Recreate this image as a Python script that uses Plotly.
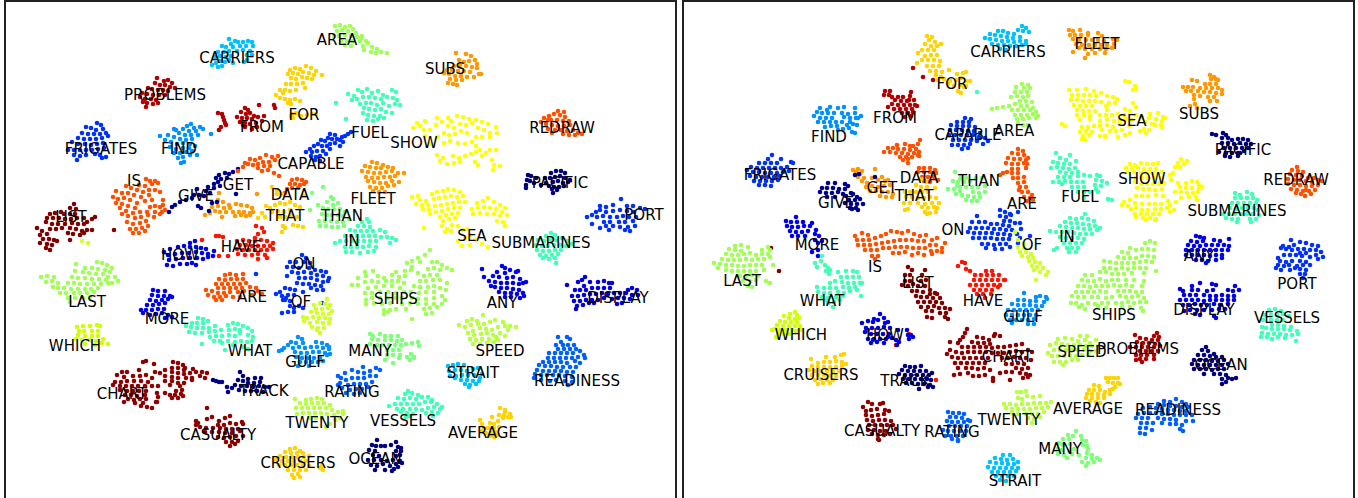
import plotly.graph_objects as go

# Word -> colour
WORDS = ["AREA","CARRIERS","SUBS","PROBLEMS","FROM","FOR","FUEL","SHOW","REDRAW","FRIGATES","FIND","CAPABLE","GET","IS","GIVE","DATA","FLEET","PACIFIC","THAT","THAN","LIST","PORT","SEA","IN","HAVE","SUBMARINES","HOW","ON","LAST","ARE","OF","SHIPS","ANY","DISPLAY","MORE","WHAT","GULF","MANY","SPEED","WHICH","STRAIT","READINESS","TRACK","RATING","CHART","TWENTY","VESSELS","AVERAGE","CASUALTY","CRUISERS","OCEAN"]
COLORS = ["#a0ff57","#00c0ff","#ff9800","#b20000","#b20000","#ffd300","#40ffb7","#ffff00","#ff5000","#0030ff","#0090ff","#0030ff","#ff9800","#ff5000","#000090","#ff5000","#ff9800","#000080","#ffd300","#7dff7a","#800000","#0030ff","#ffff00","#40ffb7","#ff1300","#40ffb7","#0000e8","#0030ff","#a0ff57","#ff5000","#d0ff29","#a0ff57","#0000f0","#0000e0","#0000f0","#40ffb7","#0090ff","#7dff7a","#b7ff40","#d0ff00","#00c0ff","#0060ff","#000080","#0060ff","#8f0000","#b7ff40","#40ffb7","#ffd300","#8f0000","#ffd300","#000080"]

# Left panel label centres
L_LABEL_X = [337,237,445,165,262,304,370,414,562,101,179,311,238,134,196,290,373,560,285,342,71,644,472,352,241,541,180,304,87,252,301,396,502,618,167,250,305,370,500,75,473,577,264,352,122,317,403,483,218,298,375]
L_LABEL_Y = [41,59,70,96,128,116,134,144,129,150,150,165,186,182,197,196,200,184,217,217,218,216,237,242,248,244,256,265,303,298,303,300,304,299,320,352,363,352,352,347,374,382,392,393,395,424,422,434,436,464,460]
# Right panel label centres
R_LABEL_X = [1014,1008,1199,1138,895,952,1080,1142,1296,780,829,968,882,875,836,919,1097,1243,914,979,918,1297,1132,1067,983,1237,885,953,742,1022,1032,1114,1199,1204,817,822,1023,1060,1082,801,1015,1178,905,952,1007,1009,1287,1088,882,821,1221]
R_LABEL_Y = [132,53,115,350,119,85,198,180,181,176,138,136,189,268,204,179,45,151,197,182,284,285,122,238,302,212,336,231,282,205,246,316,257,311,246,302,318,450,353,336,482,411,382,433,358,421,319,410,432,376,366]

# ---------- left panel ----------
L_AREA = [(335,26),(340,25),(345,27),(350,26),(337,31),(342,30),(348,31),(353,29),(356,33),(334,36),(339,36),(345,35),(351,36),(357,37),(362,36),(341,41),(347,41),(353,41),(360,41),(366,41),(345,45),(351,46),(363,46),(368,43),(372,47),(377,49),(381,52),(376,53),(387,53),(364,50),(371,52),(361,38)]
L_CARRIERS = [(229,39),(235,41),(231,44),(238,42),(243,42),(248,41),(252,42),(222,46),(226,47),(233,47),(240,46),(246,46),(253,46),(218,52),(224,52),(229,51),(237,51),(243,50),(250,51),(215,57),(220,56),(226,57),(231,56),(247,55),(252,55),(212,65),(216,63),(220,61),(225,62),(229,60),(233,63),(218,67),(222,66),(244,62),(247,60)]
L_PROBLEMS = [(157,78),(164,81),(168,80),(172,83),(155,83),(160,85),(165,85),(170,87),(175,88),(148,88),(152,89),(158,90),(163,90),(168,91),(142,93),(147,94),(153,95),(159,95),(165,95),(140,97),(145,99),(151,99),(156,100),(147,103),(153,104),(158,103),(146,107),(143,102)]
L_FROM = [(218,113),(222,114),(223,117),(224,120),(225,123),(226,125),(221,127),(219,130),(245,108),(248,110),(259,105),(241,112),(246,114),(250,113),(254,116),(237,117),(242,118),(247,118),(252,119),(258,117),(264,116),(240,122),(245,123),(250,124),(256,123),(262,121),(245,127),(252,129),(257,127),(243,125),(274,105),(275,108)]
L_FOR = [(290,70),(295,68),(300,69),(306,66),(311,68),(316,71),(322,75),(288,74),(293,73),(298,74),(303,72),(309,73),(314,75),(291,78),(296,79),(302,77),(307,78),(312,79),(286,84),(291,84),(297,84),(303,83),(280,90),(283,93),(276,95),(285,90),(290,91),(296,90),(305,88),(280,98),(285,99),(290,100),(295,99),(300,101),(291,104),(288,103),(292,114),(296,113),(291,116),(301,116),(307,115),(312,114),(316,114),(293,118)]
L_FUEL = [(348,94),(354,96),(358,90),(362,92),(367,89),(372,93),(378,91),(383,95),(392,90),(396,92),(397,100),(400,105),(352,100),(357,99),(363,97),(369,97),(375,98),(381,99),(387,97),(393,98),(360,104),(366,103),(371,103),(377,105),(383,103),(389,106),(395,104),(364,108),(369,109),(375,110),(381,109),(386,112),(392,113),(363,113),(368,115),(374,116),(380,116),(367,120),(373,121),(378,119),(384,118),(346,119),(336,103)]
L_CAPABLE = [(351,132),(348,134),(345,136),(342,137),(340,140),(343,142),(340,146),(335,135),(330,134),(337,139),(332,139),(328,138),(335,143),(330,144),(325,141),(321,140),(327,146),(322,146),(318,144),(314,146),(310,149),(306,152),(312,152),(317,151),(323,151),(330,149),(311,156),(316,157),(320,156),(326,154),(315,160),(320,161)]
L_SUBS = [(456,53),(466,54),(471,56),(459,60),(464,62),(469,61),(475,60),(477,64),(454,66),(460,65),(466,66),(472,67),(477,68),(447,70),(452,70),(458,71),(464,71),(470,72),(481,74),(444,73),(449,74),(455,76),(461,76),(467,77),(474,77),(479,74),(450,79),(456,80),(462,80),(448,83),(453,84),(457,85)]
L_SHOW = [(417,123),(420,126),(425,121),(413,128),(424,130),(430,130),(436,125),(442,122),(448,118),(451,121),(457,116),(463,117),(469,119),(476,120),(482,122),(488,124),(496,127),(437,118),(448,126),(454,128),(460,124),(466,125),(472,123),(478,128),(484,130),(490,133),(497,133),(444,133),(449,135),(455,134),(461,131),(467,133),(476,137),(482,137),(490,137),(438,137),(425,136),(430,144),(444,143),(450,141),(458,143),(465,144),(472,142),(476,146),(480,150),(496,150),(490,150),(486,153),(482,156),(476,152),(471,154),(465,156),(459,158),(453,156),(443,158),(437,155),(440,161),(447,164),(454,163),(460,162),(475,162),(478,165),(492,160),(494,165),(500,166),(493,170)]
L_REDRAW = [(558,111),(554,114),(560,115),(565,117),(549,116),(544,118),(551,120),(557,120),(563,121),(569,121),(546,124),(552,125),(558,126),(564,126),(570,125),(541,122),(548,129),(555,130),(561,130),(567,131),(573,130),(578,133),(582,134),(563,134),(569,135),(575,135),(552,133),(548,120),(564,112)]
L_FRIGATES = [(97,123),(101,125),(86,127),(91,128),(96,130),(103,129),(82,133),(88,134),(94,134),(100,134),(106,133),(78,138),(84,139),(90,139),(96,139),(102,138),(108,136),(72,142),(78,144),(85,144),(91,145),(97,144),(103,143),(68,150),(74,150),(80,150),(86,150),(92,150),(98,149),(104,148),(74,155),(80,156),(86,155),(95,154),(100,155),(106,157),(77,160),(102,158)]
L_FIND = [(191,124),(187,126),(194,128),(200,127),(183,129),(189,131),(196,131),(203,129),(174,129),(179,133),(185,135),(191,135),(198,135),(168,135),(174,137),(180,139),(186,140),(192,139),(211,134),(160,136),(165,140),(171,142),(177,144),(183,143),(190,144),(170,147),(176,149),(183,148),(189,148),(195,146),(174,153),(180,153),(186,152),(192,151),(178,158),(183,157),(190,155),(197,155),(181,163),(184,162),(176,130)]
L_GIVE = [(238,169),(233,172),(229,174),(225,173),(219,175),(216,178),(221,179),(227,178),(218,182),(214,184),(208,187),(214,188),(220,186),(206,191),(210,193),(197,189),(194,195),(199,195),(204,196),(192,198),(186,200),(180,202),(175,205),(172,207),(198,206),(201,208),(212,203),(217,202),(209,211),(169,212),(236,194)]
L_GET = [(219,193),(218,200),(223,202),(229,205),(212,207),(218,206),(224,208),(230,208),(236,204),(241,205),(247,206),(252,208),(210,213),(215,211),(220,212),(226,212),(233,212),(239,212),(244,212),(250,213),(222,217),(235,216),(241,215),(246,216),(205,215),(257,194),(250,215),(253,212)]
L_DATA = [(245,163),(250,159),(255,160),(260,158),(266,155),(272,157),(278,156),(243,167),(248,164),(253,165),(258,164),(263,162),(269,162),(275,160),(258,168),(264,166),(270,166),(262,171),(268,170),(274,173),(279,176),(238,171),(292,180),(297,179),(302,180),(306,182),(290,184),(295,184),(300,185),(304,184),(287,189),(292,188),(298,188),(285,193)]
L_THAT = [(272,187),(277,190),(282,194),(266,206),(270,208),(275,205),(280,203),(285,204),(290,202),(295,205),(300,207),(262,213),(258,218),(265,217),(272,212),(278,211),(284,212),(290,210),(280,217),(285,217),(292,216),(297,217),(283,226),(285,228),(282,232),(293,225),(298,226),(303,227),(277,194),(304,196)]
L_THAN = [(323,187),(331,197),(333,199),(327,202),(333,205),(338,203),(318,205),(323,208),(328,209),(334,209),(340,209),(345,212),(322,214),(327,215),(332,215),(338,215),(343,216),(319,221),(325,221),(331,221),(337,222),(343,222),(349,219),(320,226),(326,226),(332,227),(338,227),(344,226),(310,210),(312,193)]
L_FLEET = [(372,162),(377,163),(383,165),(365,166),(370,167),(376,168),(381,168),(388,167),(393,168),(362,171),(368,172),(374,173),(380,173),(386,172),(392,171),(398,173),(404,173),(366,177),(372,178),(378,178),(384,177),(390,177),(395,176),(368,181),(374,182),(380,183),(386,183),(392,181),(399,182),(370,187),(376,188),(382,188),(388,186),(394,185),(373,191),(379,192),(385,192)]
L_PACIFIC = [(528,175),(531,176),(536,178),(530,181),(526,185),(534,183),(527,180),(551,173),(556,171),(561,171),(565,173),(550,178),(555,177),(560,176),(565,178),(570,180),(553,182),(558,181),(563,183),(568,182),(549,186),(554,187),(559,187),(564,186),(552,189),(557,190),(553,193),(526,188),(541,185),(546,183),(545,178)]
L_PORT = [(621,199),(613,205),(606,207),(600,206),(627,206),(633,206),(640,208),(645,209),(600,210),(596,212),(606,212),(613,211),(620,210),(627,211),(634,212),(592,215),(587,217),(597,217),(603,216),(610,217),(617,217),(623,216),(629,217),(636,217),(604,222),(610,222),(619,222),(625,222),(633,221),(606,226),(613,226),(620,227),(628,227),(635,226),(600,228),(609,230),(630,231),(625,230),(592,224)]
L_SEA = [(418,196),(412,197),(420,200),(426,201),(432,194),(437,192),(443,191),(448,189),(454,190),(460,192),(463,196),(416,204),(422,205),(428,205),(434,199),(439,198),(445,197),(451,196),(457,197),(423,209),(429,210),(435,206),(441,205),(447,204),(453,203),(459,202),(465,202),(430,214),(436,212),(442,211),(448,209),(454,208),(460,208),(440,217),(446,215),(452,214),(458,213),(424,228),(443,221),(449,219),(455,218),(442,226),(447,229),(452,225),(458,226),(445,232),(451,231),(477,203),(483,201),(488,198),(494,202),(500,205),(505,208),(472,209),(478,208),(484,207),(490,208),(496,209),(502,212),(473,214),(480,213),(487,214),(494,214),(500,216),(507,215),(497,221),(503,222),(505,226),(463,230),(468,229),(470,235),(476,240),(482,244),(488,247),(470,245),(465,238),(458,241),(462,246)]
L_SUBMARINES = [(551,233),(546,236),(555,235),(538,240),(544,241),(550,240),(556,240),(562,238),(567,241),(572,244),(536,245),(542,246),(548,246),(554,245),(560,245),(566,246),(537,250),(543,251),(549,251),(555,250),(561,250),(540,255),(546,256),(552,255),(558,254),(543,258),(549,259),(555,258),(556,263)]
L_IN = [(367,219),(362,222),(369,222),(358,226),(364,226),(370,227),(350,230),(355,231),(361,231),(367,231),(373,231),(380,230),(385,232),(345,236),(351,236),(357,236),(363,236),(369,236),(375,236),(381,237),(387,237),(392,238),(396,240),(335,243),(340,241),(346,241),(352,241),(358,241),(364,241),(370,241),(376,241),(390,243),(345,247),(351,247),(357,247),(363,247),(369,246),(376,247),(346,252),(352,252),(360,253),(368,252),(374,251)]
L_HAVE = [(256,226),(262,228),(264,232),(258,234),(255,238),(216,236),(219,236),(223,237),(202,240),(237,241),(243,240),(249,241),(255,241),(261,240),(267,241),(273,243),(240,245),(246,245),(252,246),(258,246),(264,246),(270,246),(237,249),(243,250),(249,250),(255,250),(261,250),(267,250),(273,249),(238,254),(245,255),(252,255),(258,254),(265,255),(219,256),(228,256),(258,259),(267,258)]
L_HOW = [(190,243),(195,241),(184,246),(178,247),(170,249),(164,252),(190,247),(196,247),(201,248),(206,249),(214,251),(168,255),(175,254),(182,253),(189,253),(196,252),(202,253),(208,254),(213,256),(169,260),(176,259),(183,258),(190,258),(197,258),(203,259),(208,257),(167,265),(173,266),(180,264),(187,264),(192,263),(196,265)]
L_ON = [(302,255),(306,258),(290,262),(296,262),(304,262),(310,263),(287,267),(293,267),(299,268),(309,268),(315,270),(321,271),(326,272),(292,272),(298,273),(304,272),(311,273),(317,275),(323,276),(329,278),(287,276),(299,278),(305,278),(311,278),(317,280),(323,282),(328,281),(297,283),(303,284),(309,284),(315,285),(321,286),(311,288),(317,290),(323,290),(285,288),(290,289),(295,290),(280,292),(276,294),(282,296),(288,295),(294,295),(283,300),(286,298),(290,301),(285,300),(290,306),(294,308),(299,306),(303,308),(282,313),(288,312),(294,312),(322,303),(303,292),(256,274)]
L_ARE = [(225,275),(230,274),(236,275),(243,274),(219,279),(225,280),(231,279),(237,279),(243,279),(246,283),(216,284),(222,284),(228,284),(234,284),(240,284),(218,288),(224,288),(230,288),(236,288),(242,288),(206,290),(212,291),(218,293),(224,293),(230,292),(238,292),(244,291),(250,287),(256,288),(208,295),(214,297),(220,297),(226,296),(233,297),(240,297),(258,291),(262,294),(216,300),(222,300),(252,295)]
L_OF = [(327,299),(320,303),(314,305),(325,304),(330,305),(316,309),(322,309),(328,308),(332,311),(311,312),(317,313),(323,314),(329,314),(303,317),(307,318),(313,317),(319,318),(325,318),(330,319),(304,321),(310,323),(317,322),(323,323),(329,323),(312,327),(318,328),(324,328),(320,333),(317,330),(82,241),(88,243)]
L_LAST = [(97,262),(102,263),(107,265),(112,268),(76,264),(85,268),(92,268),(98,269),(105,270),(110,272),(75,271),(83,272),(89,273),(96,274),(103,274),(108,277),(115,277),(41,277),(47,276),(54,277),(72,277),(78,278),(85,278),(92,279),(99,279),(106,280),(112,283),(118,281),(46,282),(52,281),(58,283),(68,283),(74,283),(80,284),(87,284),(94,284),(101,284),(108,283),(53,287),(58,288),(64,288),(71,289),(78,289),(85,289),(91,289),(98,288),(60,293),(66,293),(74,293),(80,293),(87,293),(94,292),(68,298),(75,298),(83,298),(90,297),(70,302)]
L_SHIPS = [(430,250),(425,255),(418,258),(412,261),(407,263),(420,262),(412,267),(432,262),(437,262),(442,265),(447,268),(452,270),(365,272),(373,271),(396,272),(405,271),(411,270),(428,269),(434,268),(440,270),(358,278),(366,276),(378,276),(384,278),(392,275),(399,277),(405,276),(418,273),(424,276),(430,275),(437,275),(352,285),(358,285),(365,282),(372,281),(378,282),(386,281),(392,281),(398,281),(404,283),(420,281),(426,281),(433,280),(440,280),(447,283),(368,288),(376,287),(384,286),(392,286),(400,288),(414,286),(420,287),(428,287),(434,286),(440,288),(446,290),(365,293),(372,293),(380,292),(388,292),(396,293),(404,292),(411,292),(419,293),(426,292),(434,292),(366,300),(372,298),(380,298),(388,298),(396,298),(402,298),(412,298),(418,299),(426,299),(434,298),(442,296),(445,300),(366,304),(374,303),(382,304),(390,303),(402,304),(410,303),(418,304),(426,304),(434,304),(442,304),(384,310),(390,310),(396,309),(406,309),(424,309),(430,308),(437,307),(384,314),(388,312),(426,314),(432,313),(412,319)]
L_ANY = [(482,269),(502,266),(505,268),(510,270),(516,272),(518,271),(497,272),(505,273),(493,276),(499,277),(507,278),(513,277),(520,279),(526,282),(484,277),(489,281),(495,282),(501,283),(507,283),(513,283),(519,284),(523,283),(495,287),(501,288),(507,288),(513,289),(519,290),(499,292),(505,293),(511,293),(517,294),(523,293),(505,297),(511,297),(520,298),(524,296),(491,286)]
L_DISPLAY = [(585,277),(582,280),(578,282),(567,285),(584,286),(590,282),(598,282),(604,281),(609,283),(612,283),(575,290),(580,290),(586,290),(592,288),(598,288),(604,288),(610,288),(632,288),(637,290),(628,290),(572,296),(578,296),(584,295),(590,294),(596,294),(602,293),(608,294),(614,293),(620,293),(626,293),(632,295),(638,295),(574,301),(580,301),(586,300),(592,300),(598,300),(604,298),(612,299),(618,298),(624,298),(630,299),(577,306),(583,305),(589,303),(594,303),(617,304),(622,303),(576,309)]
L_MORE = [(153,290),(158,291),(165,291),(170,296),(172,297),(152,295),(158,296),(164,296),(150,300),(156,301),(162,300),(168,299),(147,305),(153,305),(159,304),(165,303),(141,310),(146,310),(152,310),(158,309),(164,309),(143,313),(150,315),(156,314),(162,313),(168,315),(165,318),(172,317)]
L_WHAT = [(198,318),(203,319),(192,323),(197,323),(203,323),(208,321),(186,326),(191,327),(197,328),(203,328),(209,328),(215,326),(189,332),(195,333),(202,333),(209,332),(215,331),(221,330),(228,325),(233,323),(238,324),(243,326),(248,328),(252,331),(229,330),(235,329),(240,330),(229,335),(235,336),(240,333),(248,335),(253,337),(210,337),(216,336),(222,336),(214,341),(220,341),(228,341),(235,342),(241,341),(247,342),(252,341),(202,344),(222,343),(233,345),(243,347),(248,349),(225,350)]
L_WHICH = [(77,327),(83,326),(90,326),(97,325),(100,326),(79,331),(84,331),(92,331),(98,331),(78,335),(85,336),(92,336),(98,336),(103,339),(76,339),(82,340),(90,340),(96,341),(102,343),(108,344),(85,344),(95,345)]
L_GULF = [(298,337),(302,339),(291,342),(296,343),(303,343),(316,342),(322,343),(327,345),(329,347),(288,345),(293,348),(299,347),(305,348),(311,347),(317,347),(323,348),(329,349),(284,348),(279,351),(282,350),(295,352),(301,353),(307,353),(313,352),(319,352),(325,353),(330,354),(296,357),(302,358),(308,358),(314,358),(320,358),(327,355),(300,362),(306,362),(312,362),(318,362),(323,361),(298,366),(309,366)]
L_MANY = [(370,334),(373,336),(380,334),(385,336),(391,336),(398,336),(372,339),(378,340),(385,340),(391,340),(397,341),(402,340),(377,345),(383,345),(389,345),(395,345),(401,345),(370,344),(387,350),(393,350),(399,350),(406,344),(412,343),(418,342),(419,346),(411,354),(414,357),(407,357),(400,355),(387,355),(393,355),(399,358),(385,360),(393,363),(410,360),(414,358)]
L_SPEED = [(483,315),(472,319),(467,321),(477,321),(459,325),(465,327),(471,325),(478,324),(484,324),(490,322),(495,320),(473,331),(480,328),(486,329),(492,330),(498,327),(503,322),(510,326),(516,327),(468,333),(474,335),(481,334),(487,333),(493,335),(500,333),(505,326),(508,330),(470,339),(476,340),(482,339),(489,339),(496,337),(505,336),(473,344),(480,344),(487,343),(494,342),(498,340)]
L_READINESS = [(558,337),(567,337),(570,339),(561,342),(556,345),(563,345),(568,345),(574,345),(558,349),(564,349),(570,349),(576,349),(549,353),(555,353),(561,353),(567,353),(573,353),(580,351),(584,355),(548,358),(554,358),(560,358),(566,358),(572,358),(578,357),(585,358),(543,362),(549,362),(555,362),(561,362),(567,363),(575,361),(580,363),(539,365),(545,366),(551,366),(557,367),(563,367),(570,367),(576,367),(537,370),(543,371),(549,371),(555,371),(561,371),(567,372),(573,372),(535,374),(541,375),(547,375),(553,375),(559,375),(565,376),(572,377),(534,378),(541,380),(550,381),(556,380),(565,381),(572,382),(568,385)]
L_STRAIT = [(448,366),(453,365),(458,364),(464,365),(449,371),(455,370),(461,370),(467,371),(473,369),(478,368),(482,374),(450,376),(456,376),(462,375),(468,375),(474,375),(480,378),(455,378),(461,380),(467,380),(473,381),(479,381),(465,384),(470,385),(476,384),(469,387)]
L_TRACK = [(213,380),(216,381),(219,382),(222,382),(240,372),(243,376),(248,379),(255,378),(261,378),(238,380),(243,381),(248,383),(254,383),(260,382),(235,385),(241,386),(247,386),(253,387),(259,386),(265,387),(269,387),(227,387),(232,388),(228,392),(239,390),(245,391),(251,391),(257,391),(263,392)]
L_RATING = [(341,378),(345,373),(352,370),(358,372),(364,373),(370,371),(376,368),(380,370),(340,383),(346,380),(352,378),(358,378),(364,378),(370,376),(376,376),(342,388),(348,385),(354,384),(360,384),(366,384),(372,382),(338,385),(350,390),(356,389),(362,389),(368,387),(346,393),(354,394),(360,393),(338,376),(363,367)]
L_CHART = [(143,362),(146,361),(154,364),(173,362),(178,363),(183,365),(185,368),(172,368),(178,368),(184,370),(193,369),(122,372),(127,372),(139,370),(155,372),(160,373),(165,370),(172,372),(178,373),(184,374),(190,373),(196,372),(202,372),(207,373),(117,375),(124,377),(133,376),(140,376),(146,375),(152,378),(165,376),(172,377),(178,378),(186,378),(192,378),(200,376),(205,378),(115,382),(121,382),(127,381),(134,381),(141,381),(148,382),(165,381),(172,381),(178,383),(184,383),(192,380),(113,385),(120,386),(126,386),(132,386),(138,386),(145,386),(152,386),(158,386),(170,385),(180,386),(120,390),(127,391),(133,391),(139,391),(146,391),(176,391),(182,390),(125,395),(131,395),(137,396),(145,395),(157,393),(175,395),(181,394),(128,399),(134,400),(140,399),(146,399),(158,397),(165,393),(172,398),(178,398),(183,396),(135,403),(143,403),(156,402),(170,395),(124,402),(141,406),(147,407),(152,408),(157,402)]
L_CASUALTY = [(207,408),(212,417),(207,419),(196,421),(198,423),(230,416),(225,418),(219,421),(218,425),(224,425),(230,423),(236,424),(242,422),(243,424),(196,425),(200,427),(206,428),(213,428),(220,428),(226,429),(232,429),(238,429),(205,432),(212,432),(219,432),(225,433),(232,433),(240,431),(218,437),(224,438),(230,437),(236,436),(243,436),(226,442),(232,442),(238,441),(230,446),(235,444)]
L_TWENTY = [(295,399),(306,400),(311,399),(317,398),(322,399),(300,403),(306,404),(312,403),(318,403),(324,403),(330,405),(296,408),(302,408),(308,408),(314,408),(320,408),(326,408),(332,410),(338,412),(343,414),(297,414),(303,413),(309,413),(315,413),(321,413),(327,414),(334,415),(310,418),(316,418),(322,418),(335,420),(340,418),(330,424),(326,427),(343,411)]
L_VESSELS = [(408,391),(405,394),(412,393),(418,395),(398,398),(404,399),(410,398),(416,399),(422,397),(428,397),(432,400),(389,406),(395,404),(401,404),(407,404),(413,404),(419,404),(425,402),(431,402),(437,404),(442,407),(397,409),(403,409),(410,409),(416,409),(422,410),(428,408),(434,407),(440,409),(401,412),(407,413),(413,414),(426,413),(432,412),(438,413),(406,417),(410,416),(433,416)]
L_AVERAGE = [(500,408),(505,410),(510,414),(499,415),(504,415),(508,417),(511,417),(492,417),(480,420),(482,424),(490,423),(494,424),(498,421),(484,428),(488,428),(494,428),(499,427),(482,431),(486,433),(492,433),(496,432),(490,436),(494,437),(498,435),(503,418),(505,412)]
L_OCEAN = [(377,440),(372,445),(376,446),(385,446),(391,445),(396,442),(398,447),(401,448),(369,450),(375,451),(381,446),(396,451),(401,451),(373,455),(379,456),(396,456),(400,455),(368,460),(374,460),(381,460),(387,461),(393,460),(400,461),(402,463),(371,465),(377,466),(383,464),(390,466),(396,464),(375,470),(385,470),(392,471),(394,469),(398,467)]
L_CRUISERS = [(290,449),(295,448),(300,451),(285,452),(291,453),(297,453),(303,453),(280,456),(286,457),(292,457),(298,457),(304,457),(309,456),(276,460),(282,461),(288,461),(294,461),(300,461),(306,461),(279,465),(285,465),(291,465),(297,465),(303,465),(309,466),(288,470),(294,470),(300,470),(306,470),(320,468),(323,470),(322,466),(292,475),(298,474),(294,478),(300,477)]
L_IS = [(146,179),(150,181),(155,181),(139,185),(145,186),(152,184),(158,183),(126,186),(131,188),(137,190),(143,192),(149,190),(155,190),(160,192),(116,191),(122,193),(128,193),(134,195),(141,197),(149,195),(113,197),(118,199),(124,198),(130,200),(137,203),(145,201),(152,200),(163,200),(116,203),(122,204),(128,206),(135,208),(150,207),(155,206),(160,207),(163,205),(120,208),(126,211),(133,213),(140,212),(147,212),(155,212),(162,212),(165,210),(122,214),(128,216),(135,218),(141,217),(148,215),(154,217),(160,214),(127,222),(133,224),(140,223),(146,221),(130,229),(136,229),(142,228),(148,226),(133,233),(139,233),(145,231)]
L_LIST = [(74,204),(70,208),(76,209),(61,212),(55,213),(50,214),(64,214),(70,214),(75,214),(47,218),(53,218),(59,218),(65,219),(71,219),(77,218),(84,218),(95,217),(92,219),(87,222),(46,222),(52,224),(58,224),(65,224),(72,223),(78,224),(84,224),(37,228),(42,231),(50,229),(56,229),(62,228),(70,228),(76,229),(82,231),(87,230),(92,230),(40,235),(47,234),(68,233),(73,234),(80,235),(84,233),(43,239),(49,239),(54,240),(70,240),(40,243),(47,244),(52,245),(57,241),(46,248),(50,250),(114,230)]

# ---------- right panel ----------
R_CARRIERS = [(1022,26),(1026,28),(1018,30),(1023,31),(1029,32),(998,31),(1003,31),(1008,33),(1014,34),(990,34),(995,35),(1001,36),(1007,37),(1013,38),(1020,37),(985,38),(990,39),(996,40),(1002,41),(1008,41),(1014,42),(1020,41),(1026,41),(992,44),(998,45),(1004,45),(1010,46),(1016,46),(1022,45),(1026,44),(1000,49),(1006,50)]
R_FLEET = [(1069,30),(1073,31),(1080,30),(1088,33),(1070,35),(1075,35),(1081,35),(1088,35),(1098,33),(1102,36),(1073,39),(1079,40),(1086,40),(1092,40),(1098,40),(1104,41),(1113,39),(1117,40),(1076,44),(1082,45),(1089,45),(1095,45),(1101,45),(1107,45),(1114,44),(1079,48),(1085,49),(1092,49),(1100,49),(1106,49),(1112,48),(1073,52),(1088,54),(1095,53),(1105,53),(1085,58)]
R_FOR = [(927,36),(932,37),(929,40),(935,42),(925,44),(931,46),(937,46),(941,44),(922,50),(928,50),(934,50),(918,53),(925,56),(931,55),(937,55),(922,60),(928,60),(934,60),(940,61),(917,63),(927,66),(933,66),(939,66),(930,71),(936,71),(942,72),(936,75),(941,77),(949,70),(938,80),(944,79),(950,81),(956,80),(961,78),(966,81),(957,74),(963,73),(966,72),(970,81),(954,86),(960,85),(966,86),(948,84),(958,91),(961,93),(964,87)]
R_FROM = [(885,91),(890,91),(889,95),(884,95),(892,97),(911,92),(910,96),(898,97),(903,97),(909,100),(895,100),(901,101),(907,101),(914,100),(892,104),(898,105),(904,105),(910,105),(915,105),(888,107),(894,109),(900,109),(906,109),(912,109),(917,106),(902,113),(908,113),(913,112),(905,117),(911,116),(913,68),(923,77),(933,80)]
R_FIND = [(820,108),(827,110),(830,107),(838,108),(844,107),(855,108),(817,112),(822,113),(828,113),(834,113),(842,113),(848,114),(855,113),(861,116),(814,116),(820,118),(826,118),(832,118),(844,117),(850,118),(856,118),(818,122),(824,122),(830,122),(836,122),(842,122),(850,122),(858,118),(825,127),(831,126),(837,126),(847,125),(853,124),(857,125),(838,130),(843,129),(849,128),(852,132),(855,133)]
R_SUBS = [(1210,75),(1214,77),(1211,79),(1216,79),(1218,80),(1197,81),(1192,80),(1205,84),(1210,84),(1216,84),(1183,87),(1188,87),(1193,87),(1200,88),(1206,88),(1212,88),(1218,88),(1222,90),(1186,91),(1191,91),(1198,91),(1204,92),(1210,92),(1216,93),(1222,94),(1194,95),(1200,96),(1208,97),(1214,97),(1194,99),(1210,101),(1217,101),(1195,104),(1190,106),(1197,108)]
R_SEA = [(1125,81),(1129,82),(1135,86),(1133,90),(1136,89),(1069,90),(1077,90),(1086,89),(1094,91),(1101,93),(1107,96),(1113,97),(1117,99),(1072,95),(1078,95),(1084,95),(1090,95),(1096,96),(1071,100),(1077,100),(1083,101),(1089,101),(1095,101),(1101,102),(1109,103),(1115,103),(1074,105),(1080,106),(1086,106),(1092,106),(1106,106),(1133,103),(1136,107),(1077,110),(1083,111),(1089,111),(1095,111),(1107,110),(1125,109),(1130,111),(1150,114),(1158,113),(1163,117),(1165,118),(1077,115),(1084,115),(1090,116),(1100,115),(1106,115),(1112,115),(1118,114),(1124,115),(1136,115),(1142,117),(1149,118),(1156,119),(1162,121),(1080,120),(1090,119),(1100,121),(1107,120),(1114,121),(1120,120),(1126,119),(1132,120),(1145,122),(1152,124),(1161,125),(1162,127),(1082,127),(1088,127),(1094,126),(1100,126),(1107,125),(1113,127),(1120,124),(1129,126),(1155,125),(1062,124),(1065,126),(1080,132),(1086,131),(1092,132),(1102,130),(1110,131),(1116,131),(1122,130),(1144,129),(1149,130),(1083,136),(1089,135),(1100,136),(1105,136),(1118,137),(1125,135),(1130,133),(1140,131),(1146,133),(1082,139),(1085,140),(1105,137)]
R_AREA = [(1022,84),(1028,85),(1016,87),(1024,88),(1030,88),(1015,92),(1021,92),(1027,92),(1011,97),(1017,96),(1023,97),(1028,96),(1020,101),(1026,101),(1032,102),(992,109),(997,108),(1003,107),(1009,106),(1015,104),(1021,106),(1027,106),(1033,108),(1012,110),(1018,110),(1024,110),(1030,110),(1036,112),(1015,115),(1021,115),(1027,115),(1033,114),(1038,116),(1017,119),(1023,119),(1029,118),(1036,118),(1018,123),(1023,125),(1028,125)]
R_CAPABLE = [(965,118),(971,119),(957,122),(963,122),(969,122),(951,125),(957,126),(963,126),(969,126),(975,127),(950,130),(956,130),(962,130),(968,131),(974,131),(980,133),(949,135),(955,135),(961,135),(967,135),(973,135),(979,137),(985,138),(953,140),(959,140),(965,140),(971,140),(977,141),(952,145),(958,145),(964,145),(970,144),(983,144),(962,149),(968,148),(988,141)]
R_DATA = [(920,140),(918,144),(913,146),(905,144),(897,145),(910,146),(893,148),(898,149),(904,149),(910,150),(916,149),(888,148),(884,152),(890,152),(896,153),(902,153),(908,154),(914,153),(919,152),(900,157),(906,157),(912,157),(918,155),(903,160),(908,159),(908,163),(919,156),(919,168),(924,168),(930,168),(935,170),(918,172),(924,172),(930,172),(936,173),(922,177),(928,177),(934,177),(938,180),(924,181),(930,182)]
R_FRIGATES = [(772,155),(768,159),(781,159),(765,163),(771,163),(777,163),(759,163),(791,162),(793,163),(751,167),(757,168),(763,168),(769,168),(775,168),(781,168),(787,167),(747,170),(753,172),(759,172),(765,173),(771,173),(777,173),(783,172),(789,171),(750,176),(756,177),(762,177),(768,177),(774,177),(780,176),(754,181),(760,181),(766,181),(772,181),(778,180),(759,185),(765,185),(771,186)]
R_GET = [(853,170),(858,169),(862,171),(856,172),(860,174),(875,169),(858,177),(864,178),(862,181),(867,183),(872,178),(878,180),(882,177),(885,181),(866,187),(872,186),(878,187),(884,186),(890,185),(870,191),(876,191),(882,192),(888,192),(893,194),(880,196),(886,197),(892,197),(888,180)]
R_GIVE = [(828,183),(835,183),(845,184),(848,186),(822,188),(827,188),(833,188),(839,189),(845,189),(820,192),(826,193),(832,193),(838,192),(843,194),(851,193),(827,197),(835,197),(846,196),(853,194),(857,197),(849,200),(855,200),(860,199),(845,203),(851,204),(857,204),(863,204),(850,208),(856,208),(852,209),(855,175),(859,174),(875,177),(858,210)]
R_THAT = [(921,179),(926,182),(916,185),(921,187),(927,187),(905,192),(910,192),(916,192),(922,192),(928,192),(935,188),(906,197),(912,197),(918,198),(924,198),(930,197),(936,198),(904,203),(910,203),(918,203),(925,204),(932,203),(939,203),(908,209),(922,207),(928,208),(934,207),(937,208),(905,210),(925,212),(930,213),(936,212),(927,214)]
R_THAN = [(955,172),(961,176),(960,179),(966,178),(953,181),(958,182),(964,182),(970,181),(976,178),(982,178),(960,187),(966,187),(972,187),(978,187),(985,186),(948,189),(954,189),(960,191),(973,192),(979,193),(985,192),(956,194),(962,195),(968,196),(974,197),(980,197),(966,200),(972,201),(977,201),(957,186)]
R_ARE = [(1018,149),(1023,151),(1012,153),(1018,154),(1024,155),(1028,158),(1008,158),(1014,159),(1020,159),(1026,160),(1006,163),(1012,164),(1018,164),(1024,163),(1027,164),(1012,169),(1018,169),(1026,168),(1007,172),(1003,173),(1012,173),(1018,173),(1000,175),(1018,178),(1024,177),(1013,178),(1018,183),(1024,182),(1020,187),(1026,187),(1022,192),(1028,192),(1032,195),(1019,190),(1024,197),(1030,198),(1027,201),(1033,200)]
R_FUEL = [(1056,153),(1070,155),(1060,158),(1066,160),(1053,162),(1058,163),(1064,164),(1070,164),(1076,161),(1051,168),(1057,167),(1063,168),(1069,169),(1075,168),(1060,172),(1066,173),(1072,173),(1078,172),(1058,177),(1064,177),(1070,177),(1078,176),(1084,175),(1090,176),(1097,175),(1053,182),(1059,182),(1065,181),(1071,182),(1077,182),(1083,182),(1100,176),(1096,180),(1102,181),(1107,183),(1062,184),(1072,187),(1078,187),(1084,187),(1095,185),(1101,186),(1078,192),(1084,192),(1090,192),(1096,189),(1098,192),(1108,199),(1112,200),(1084,198),(977,92)]
R_SHOW = [(1181,159),(1187,161),(1178,163),(1184,164),(1175,167),(1180,167),(1130,164),(1135,165),(1141,163),(1147,164),(1153,164),(1158,163),(1126,168),(1132,168),(1138,168),(1144,169),(1150,169),(1156,169),(1128,172),(1134,172),(1141,173),(1147,173),(1153,173),(1162,172),(1170,175),(1173,173),(1136,178),(1142,178),(1148,178),(1154,178),(1162,178),(1171,180),(1178,183),(1186,183),(1192,181),(1197,182),(1199,185),(1135,182),(1141,184),(1147,184),(1153,184),(1159,184),(1164,183),(1180,187),(1186,188),(1192,188),(1199,188),(1202,187),(1137,188),(1143,189),(1149,189),(1155,190),(1162,189),(1175,192),(1181,192),(1187,193),(1193,193),(1198,192),(1124,202),(1130,200),(1136,196),(1142,196),(1148,196),(1156,195),(1163,196),(1168,201),(1181,198),(1189,197),(1196,197),(1197,200),(1122,205),(1128,206),(1135,203),(1142,204),(1149,204),(1155,204),(1161,204),(1170,205),(1176,202),(1131,209),(1136,208),(1142,210),(1148,210),(1155,209),(1161,209),(1167,208),(1174,210),(1135,214),(1141,214),(1147,214),(1153,214),(1159,214),(1170,212),(1136,217),(1143,218),(1150,218),(1156,219),(1146,220),(1155,220)]
R_PACIFIC = [(1212,134),(1216,135),(1223,133),(1226,135),(1222,138),(1228,138),(1232,140),(1238,139),(1243,139),(1248,140),(1222,143),(1228,143),(1234,144),(1240,143),(1246,144),(1251,144),(1224,148),(1230,148),(1236,148),(1242,148),(1248,148),(1219,152),(1226,153),(1232,153),(1238,153),(1244,151),(1225,156),(1230,157),(1238,156),(1240,153)]
R_REDRAW = [(1297,167),(1292,170),(1298,171),(1303,172),(1290,174),(1296,175),(1302,176),(1308,178),(1314,178),(1288,179),(1294,180),(1300,180),(1306,181),(1312,182),(1318,180),(1322,181),(1288,184),(1294,185),(1300,185),(1306,186),(1312,186),(1318,185),(1291,189),(1297,190),(1303,191),(1309,191),(1315,190),(1296,193),(1301,194),(1305,196),(1311,194),(1306,190)]
R_SUBMARINES = [(1235,193),(1240,195),(1247,192),(1252,194),(1235,198),(1241,198),(1247,198),(1253,198),(1257,200),(1232,203),(1238,203),(1244,203),(1250,203),(1256,203),(1230,208),(1236,209),(1242,208),(1248,208),(1254,208),(1258,210),(1223,214),(1229,214),(1235,214),(1241,214),(1247,214),(1253,214),(1259,215),(1226,218),(1232,219),(1238,219),(1250,219),(1256,219),(1237,222),(1251,222)]
R_MORE = [(796,217),(786,221),(791,222),(797,222),(803,222),(812,223),(787,226),(792,227),(798,227),(804,226),(810,226),(816,230),(790,231),(796,232),(802,232),(808,231),(792,236),(798,236),(805,236),(815,234),(819,236),(815,240),(818,243),(822,241),(818,250),(812,252),(818,256)]
R_ON = [(1000,210),(1005,212),(1010,214),(1000,216),(1006,217),(1011,215),(1018,212),(1004,221),(1010,221),(977,216),(972,222),(979,222),(985,222),(991,224),(997,224),(1003,225),(1009,226),(1015,223),(970,228),(976,228),(982,228),(988,228),(994,229),(1000,229),(1006,230),(1012,230),(968,232),(974,233),(980,233),(986,233),(992,233),(998,234),(1004,234),(1010,235),(973,238),(979,238),(985,238),(991,238),(997,239),(1003,239),(1009,239),(982,244),(988,244),(994,245),(1000,244),(1006,244),(986,248),(995,249),(1002,249),(1010,247),(1020,223),(1021,229),(1017,234),(1020,238),(1018,243),(1030,236)]
R_IN = [(1085,214),(1070,218),(1076,219),(1082,218),(1088,219),(1094,221),(1065,222),(1071,223),(1077,223),(1083,224),(1089,225),(1095,226),(1100,228),(1060,226),(1066,227),(1072,228),(1078,228),(1084,229),(1090,229),(1097,230),(1050,231),(1056,232),(1062,232),(1068,232),(1074,233),(1080,234),(1086,234),(1092,234),(1060,237),(1066,238),(1072,238),(1078,238),(1084,239),(1064,243),(1070,243),(1076,243),(1082,243),(1067,248),(1072,248),(1078,248),(1069,252),(1076,252),(1054,250),(1057,248)]
R_OF = [(1018,247),(1024,248),(1020,252),(1026,252),(1031,254),(1022,256),(1028,257),(1033,258),(1029,261),(1035,262),(1040,263),(1032,266),(1037,267),(1043,268),(1048,272),(1034,270),(1040,272),(1046,275),(1036,280),(1015,232),(1018,240),(1024,244)]
R_ANY = [(1196,236),(1200,237),(1204,238),(1191,241),(1197,242),(1203,241),(1214,240),(1220,241),(1229,239),(1188,245),(1194,246),(1200,246),(1206,245),(1212,245),(1218,245),(1224,245),(1229,246),(1186,250),(1192,250),(1198,250),(1204,250),(1210,250),(1216,250),(1222,250),(1228,250),(1186,255),(1192,255),(1198,255),(1204,255),(1210,256),(1216,255),(1222,255),(1196,260),(1202,260),(1208,261),(1216,260),(1222,258),(1206,263)]
R_IS = [(855,236),(862,233),(868,235),(857,240),(863,240),(869,240),(875,238),(881,236),(886,234),(891,231),(897,232),(902,233),(908,231),(914,234),(920,236),(926,235),(932,240),(937,238),(945,243),(858,245),(864,245),(870,245),(876,244),(882,243),(888,242),(894,241),(900,240),(906,240),(912,240),(918,241),(924,241),(930,245),(936,245),(942,248),(865,250),(871,250),(877,250),(883,248),(889,248),(895,247),(901,247),(907,247),(913,248),(919,248),(925,248),(931,251),(937,251),(942,252),(872,256),(878,256),(893,253),(899,253),(905,252),(912,255),(918,253),(924,255),(932,254),(875,259)]
R_LAST = [(735,246),(741,245),(748,247),(768,247),(729,249),(735,250),(741,251),(762,250),(770,250),(726,254),(732,255),(738,255),(744,254),(750,253),(756,255),(762,254),(768,254),(722,259),(728,260),(734,260),(740,260),(746,259),(752,260),(758,259),(764,259),(770,257),(714,263),(720,264),(726,265),(732,265),(738,266),(744,266),(750,265),(756,265),(762,265),(773,265),(718,268),(726,270),(732,271),(738,271),(744,271),(750,271),(756,271),(764,270),(740,276),(746,276),(752,275),(758,276),(766,281),(770,283),(743,281),(750,281),(756,280),(748,286),(752,287)]
R_WHAT = [(822,256),(821,261),(815,263),(817,267),(825,265),(828,268),(830,270),(826,271),(829,274),(838,272),(846,271),(853,271),(857,272),(841,277),(847,277),(853,277),(859,277),(862,283),(830,283),(835,281),(842,282),(848,283),(854,283),(860,283),(824,288),(830,288),(836,288),(843,287),(849,288),(855,287),(817,287),(818,292),(824,293),(830,293),(838,292),(844,293),(850,291),(857,290),(822,297),(828,298),(836,297),(843,296),(828,303),(834,302),(840,300),(833,307),(861,296),(827,300)]
R_LIST = [(908,267),(912,270),(905,275),(910,275),(925,270),(922,275),(905,281),(910,281),(921,281),(926,280),(913,284),(902,285),(908,286),(918,286),(925,286),(930,290),(935,293),(912,291),(917,291),(923,292),(930,294),(937,294),(916,296),(921,297),(927,297),(933,298),(940,298),(918,302),(924,302),(930,302),(936,302),(942,303),(921,307),(928,307),(934,306),(939,308),(945,308),(950,309),(926,311),(932,311),(940,313),(946,313),(927,317),(932,318),(945,317),(948,319),(779,271),(771,248)]
R_HAVE = [(962,262),(965,263),(958,266),(966,269),(970,271),(986,271),(992,271),(975,275),(981,275),(987,275),(993,275),(999,275),(1005,280),(974,280),(980,280),(986,280),(992,280),(998,280),(1004,280),(970,285),(976,285),(982,285),(988,285),(994,285),(1000,285),(974,290),(980,290),(986,290),(992,290),(998,287),(977,294),(983,294),(991,294),(985,298),(868,330),(909,334),(896,345),(936,380)]
R_GULF = [(1024,293),(1046,297),(1047,299),(1040,296),(1036,297),(1030,301),(1018,300),(1024,300),(1036,301),(1044,302),(1012,304),(1018,305),(1024,305),(1030,305),(1036,306),(1042,306),(1008,310),(1014,310),(1020,310),(1026,310),(1032,310),(1038,310),(1006,315),(1012,315),(1018,315),(1024,315),(1030,315),(1036,315),(1010,320),(1016,320),(1022,320),(1028,320),(1034,319),(1012,323),(1028,324),(1034,324)]
R_SHIPS = [(1150,241),(1145,243),(1155,243),(1130,248),(1122,252),(1128,253),(1136,250),(1142,249),(1148,249),(1154,250),(1118,257),(1124,258),(1130,258),(1136,258),(1142,256),(1148,256),(1154,257),(1104,261),(1110,262),(1116,263),(1122,263),(1128,263),(1134,263),(1140,262),(1146,261),(1152,262),(1104,268),(1110,268),(1116,269),(1122,268),(1128,269),(1134,268),(1140,268),(1146,268),(1156,271),(1085,275),(1092,275),(1100,272),(1106,272),(1112,274),(1118,274),(1124,274),(1132,273),(1144,273),(1082,280),(1088,281),(1094,281),(1100,279),(1106,281),(1112,280),(1118,280),(1126,280),(1134,280),(1144,281),(1078,286),(1084,286),(1090,287),(1096,286),(1102,286),(1108,286),(1114,285),(1120,286),(1126,285),(1132,286),(1142,286),(1076,292),(1082,292),(1088,292),(1094,292),(1100,291),(1106,292),(1118,291),(1124,291),(1130,291),(1136,292),(1142,292),(1072,296),(1078,297),(1084,297),(1092,297),(1098,297),(1106,298),(1112,297),(1120,296),(1126,297),(1132,297),(1138,296),(1144,298),(1071,303),(1076,303),(1082,305),(1088,303),(1095,304),(1102,303),(1108,303),(1116,303),(1122,303),(1128,302),(1134,303),(1140,302),(1146,302),(1079,307),(1085,309),(1098,306),(1106,308),(1122,307),(1130,307),(1141,308),(1143,311)]
R_PORT = [(1291,240),(1300,242),(1306,243),(1312,245),(1318,246),(1294,245),(1289,247),(1283,246),(1281,248),(1286,249),(1292,250),(1298,249),(1304,249),(1310,250),(1316,250),(1321,252),(1300,253),(1306,253),(1316,255),(1323,257),(1278,258),(1284,255),(1290,255),(1296,255),(1302,256),(1310,257),(1318,259),(1280,261),(1286,262),(1292,261),(1300,261),(1306,262),(1278,265),(1284,266),(1289,265),(1297,266),(1303,265),(1310,265),(1276,268),(1281,270),(1300,269),(1306,270),(1300,274),(1305,274),(1303,278),(1290,270),(1295,268)]
R_DISPLAY = [(1192,286),(1200,283),(1212,284),(1216,285),(1235,286),(1239,290),(1180,289),(1183,291),(1192,290),(1198,290),(1207,291),(1213,290),(1228,290),(1233,291),(1184,295),(1190,295),(1196,295),(1204,295),(1210,296),(1216,296),(1222,295),(1228,296),(1234,296),(1180,300),(1186,300),(1192,300),(1198,300),(1204,301),(1210,300),(1216,300),(1222,300),(1228,300),(1234,300),(1183,305),(1189,305),(1195,304),(1201,305),(1207,305),(1214,304),(1220,305),(1228,304),(1184,311),(1190,310),(1197,310),(1204,310),(1212,310),(1219,309),(1225,309),(1195,314),(1200,315),(1214,316),(1216,318)]
R_VESSELS = [(1269,310),(1275,309),(1281,311),(1265,315),(1271,315),(1277,315),(1283,314),(1289,316),(1263,320),(1271,320),(1277,320),(1283,320),(1272,325),(1278,325),(1284,326),(1291,327),(1262,327),(1266,328),(1272,329),(1278,329),(1284,329),(1290,330),(1297,331),(1262,333),(1268,334),(1274,334),(1280,334),(1286,335),(1292,335),(1298,334),(1261,337),(1267,337),(1278,337),(1285,338),(1296,341),(1272,339)]
R_WHICH = [(795,312),(790,314),(797,315),(784,316),(789,318),(795,319),(799,318),(780,321),(785,322),(791,322),(797,322),(777,325),(783,326),(789,326),(795,326),(800,326),(775,329),(772,330),(780,330),(786,330),(792,330),(778,334),(784,334),(790,334),(776,337),(796,331),(802,330)]
R_HOW = [(880,314),(874,319),(878,320),(884,318),(862,323),(868,321),(873,322),(885,323),(888,322),(866,328),(872,328),(878,328),(884,327),(890,328),(865,332),(871,334),(877,334),(883,334),(889,334),(898,330),(907,330),(868,339),(874,339),(880,339),(886,339),(892,338),(908,335),(911,335),(913,337),(909,339),(871,343),(877,342),(884,343),(896,340),(897,345),(899,342),(888,337),(873,340)]
R_SPEED = [(1080,336),(1087,336),(1085,340),(1058,339),(1065,338),(1072,339),(1078,341),(1090,343),(1096,340),(1050,345),(1056,343),(1062,344),(1068,345),(1074,345),(1080,345),(1086,346),(1092,346),(1098,346),(1054,350),(1060,350),(1066,350),(1072,350),(1078,350),(1084,350),(1090,351),(1096,351),(1048,353),(1052,356),(1058,356),(1064,356),(1070,356),(1076,356),(1082,355),(1088,355),(1054,362),(1060,362),(1066,362),(1072,360),(1078,360),(1063,365)]
R_PROBLEMS = [(1157,333),(1154,336),(1159,337),(1135,335),(1140,338),(1146,339),(1152,340),(1158,340),(1137,342),(1143,343),(1149,343),(1155,344),(1130,347),(1136,347),(1142,347),(1148,347),(1154,347),(1160,346),(1140,351),(1146,351),(1152,351),(1158,351),(1136,355),(1141,355),(1147,355),(1154,355),(1140,359),(1146,359),(1136,360),(1142,362),(1154,359)]
R_CHART = [(967,329),(965,333),(963,337),(960,340),(995,334),(994,336),(1000,336),(977,337),(983,338),(989,340),(950,342),(958,343),(972,342),(978,343),(984,343),(990,344),(962,347),(968,347),(974,347),(980,347),(986,347),(992,348),(998,347),(1004,347),(1010,346),(1016,345),(1022,344),(950,350),(956,352),(962,353),(968,352),(974,352),(980,352),(986,352),(992,353),(998,353),(1004,353),(1010,352),(1016,351),(1022,352),(1028,350),(947,354),(952,357),(958,358),(964,358),(970,358),(976,358),(982,358),(988,358),(1002,358),(1008,358),(1014,357),(1020,358),(1026,358),(1032,352),(955,363),(961,363),(967,363),(973,363),(979,363),(985,363),(1006,364),(1012,364),(1018,363),(1024,364),(1031,360),(1016,368),(1022,369),(1028,368),(958,368),(966,368),(972,368),(978,369),(984,368),(990,370),(1000,373),(1006,372),(1012,372),(1020,373),(1026,374),(1030,375),(954,375),(960,374),(968,373),(973,376),(979,376),(985,375),(993,378),(1010,380),(1023,378),(1028,377),(993,381)]
R_OCEAN = [(1206,347),(1202,350),(1208,351),(1214,354),(1198,355),(1204,355),(1210,356),(1216,357),(1222,357),(1194,360),(1200,360),(1206,360),(1212,361),(1218,361),(1224,360),(1192,364),(1198,365),(1204,365),(1210,365),(1216,365),(1222,365),(1228,364),(1194,369),(1200,369),(1206,369),(1212,370),(1218,369),(1224,369),(1204,374),(1214,374),(1220,374),(1226,375),(1222,379),(1228,378),(1232,379),(1236,378),(1222,384),(1226,382)]
R_CRUISERS = [(811,359),(826,357),(841,355),(844,354),(835,357),(818,363),(824,362),(830,362),(836,361),(842,362),(846,364),(812,366),(818,367),(824,367),(830,367),(836,367),(842,366),(809,370),(815,371),(821,371),(827,371),(833,372),(839,371),(812,375),(818,375),(824,375),(830,376),(836,376),(815,380),(821,379),(827,380),(833,380),(818,384),(823,383),(830,383)]
R_TRACK = [(905,366),(910,367),(915,367),(921,366),(902,370),(908,371),(914,371),(920,371),(926,371),(932,373),(899,374),(905,375),(911,375),(917,375),(923,375),(929,375),(903,379),(909,379),(915,379),(921,379),(927,379),(931,380),(906,383),(912,383),(918,384),(924,384),(930,385),(919,389),(928,387),(933,387)]
R_AVERAGE = [(1106,378),(1110,378),(1114,378),(1118,378),(1108,382),(1113,383),(1118,383),(1120,384),(1115,387),(1094,385),(1099,386),(1089,390),(1094,390),(1100,390),(1105,392),(1110,390),(1087,394),(1092,394),(1098,394),(1104,395),(1110,394),(1086,398),(1092,398),(1098,398),(1104,398),(1090,401),(1096,402),(1100,403),(1113,389)]
R_READINESS = [(1176,399),(1164,401),(1170,402),(1182,402),(1186,404),(1158,404),(1164,405),(1170,406),(1176,406),(1182,407),(1188,407),(1143,408),(1150,407),(1156,408),(1162,409),(1168,410),(1174,410),(1180,411),(1186,411),(1138,414),(1144,413),(1150,413),(1156,413),(1162,414),(1168,414),(1174,415),(1180,415),(1186,415),(1192,415),(1136,418),(1142,418),(1148,418),(1158,418),(1164,419),(1170,419),(1176,420),(1186,421),(1193,421),(1141,423),(1147,423),(1153,423),(1162,423),(1170,424),(1176,424),(1182,425),(1140,428),(1146,428),(1152,430),(1180,429),(1183,431),(1140,433),(1145,434)]
R_TWENTY = [(1017,392),(1021,392),(1026,391),(1027,396),(1033,397),(1022,399),(1018,398),(1040,396),(1004,404),(1010,404),(1016,405),(1022,404),(1028,404),(1034,403),(1040,403),(1046,403),(1051,402),(1006,408),(1012,409),(1018,409),(1024,409),(1030,409),(1036,408),(1042,408),(1048,407),(1012,413),(1018,414),(1026,414),(1032,414),(1038,414),(1044,412),(1028,418),(1034,419),(1040,417),(1032,423)]
R_CASUALTY = [(868,402),(863,407),(872,404),(880,404),(883,403),(866,411),(871,410),(877,409),(885,410),(889,411),(866,415),(872,416),(878,415),(884,414),(867,420),(873,421),(879,420),(885,420),(891,421),(869,425),(875,425),(881,425),(887,425),(893,425),(868,430),(874,430),(880,431),(886,431),(896,429),(872,434),(878,435),(884,435),(890,434),(878,439),(879,440)]
R_RATING = [(948,412),(953,413),(959,413),(964,414),(950,417),(956,417),(962,418),(968,420),(970,421),(947,421),(952,422),(958,422),(964,422),(949,426),(955,426),(961,426),(967,426),(943,430),(948,431),(954,431),(960,431),(966,431),(945,436),(951,436),(957,436),(963,436),(952,439),(958,440),(958,441)]
R_MANY = [(1076,431),(1068,435),(1073,436),(1081,436),(1063,439),(1069,439),(1082,440),(1086,441),(1059,443),(1063,445),(1070,444),(1083,445),(1087,446),(1058,449),(1062,450),(1069,451),(1074,449),(1088,449),(1058,454),(1064,455),(1072,454),(1087,453),(1092,455),(1067,458),(1079,455),(1086,458),(1092,459),(1097,458),(1100,460),(1082,462),(1088,463),(1094,462),(1086,466)]
R_STRAIT = [(1003,455),(1010,455),(995,458),(1001,459),(1007,460),(1013,459),(1018,462),(990,462),(996,463),(1002,463),(1008,464),(1014,464),(988,467),(994,468),(1000,468),(1006,468),(1012,468),(1018,468),(992,472),(998,472),(1004,472),(1010,472),(1016,471),(996,476),(1002,476),(1008,476),(1014,476),(1000,480),(1006,481)]

W, H = 1358, 498
fig = go.Figure()
namespace = globals()
for prefix, xa, ya in (("L_", "x", "y"), ("R_", "x2", "y2")):
    for word, colour in zip(WORDS, COLORS):
        pts = namespace[prefix + word]
        fig.add_trace(go.Scatter(x=[p[0] for p in pts], y=[p[1] for p in pts], mode="markers",
                                 marker=dict(size=4.6, color=colour, line=dict(width=0)),
                                 xaxis=xa, yaxis=ya, showlegend=False, hoverinfo="skip", name=word))
for lx, ly, xa, ya in ((L_LABEL_X, L_LABEL_Y, "x", "y"), (R_LABEL_X, R_LABEL_Y, "x2", "y2")):
    fig.add_trace(go.Scatter(x=lx, y=ly, text=WORDS, mode="text", textposition="middle center",
                             textfont=dict(family="DejaVu Sans", size=15, color="#000000"),
                             xaxis=xa, yaxis=ya, showlegend=False, hoverinfo="skip", cliponaxis=False))

def xaxis(x0, x1, anchor):
    return dict(domain=[x0 / W, x1 / W], range=[x0, x1], side="top", anchor=anchor, showline=True,
                linecolor="#222222", linewidth=1.5, mirror=False, showgrid=False, zeroline=False,
                ticks="", showticklabels=False)

def yaxis(anchor):
    return dict(domain=[0, 1 - 2 / H], range=[H, 2], anchor=anchor, showline=True, linecolor="#222222",
                linewidth=1.5, mirror=True, showgrid=False, zeroline=False, ticks="", showticklabels=False)

fig.update_layout(width=W, height=H, margin=dict(l=0, r=0, t=0, b=0), plot_bgcolor="white", paper_bgcolor="white",
                  xaxis=xaxis(6, 675, "y"), yaxis=yaxis("x"), xaxis2=xaxis(684, 1353, "y2"), yaxis2=yaxis("x2"))
fig.write_html("out.html", config={"displayModeBar": False},
               post_script="document.body.style.margin='0';document.body.style.overflow='hidden';")
